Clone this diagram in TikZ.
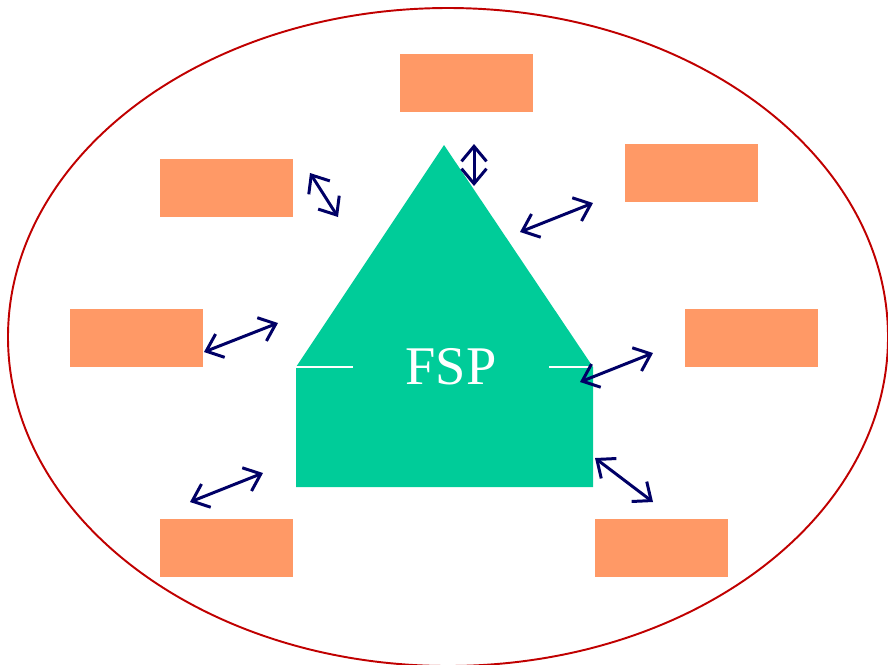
\documentclass[tikz,border=0pt]{standalone}
\usepackage{fontspec}
\setmainfont{Liberation Serif}
\usepackage{tikz}
\usetikzlibrary{arrows.meta,positioning,calc}
\definecolor{boxorange}{HTML}{FF9966}
\definecolor{housegreen}{HTML}{00CC99}
\definecolor{ringred}{HTML}{C00000}
\definecolor{arrownavy}{HTML}{000066}
\tikzset{>={Straight Barb[length=0.3cm,width=0.5cm]}}
\tikzset{partner/.style={fill=boxorange,minimum width=2.66cm,minimum height=1.16cm,inner sep=0pt}}

\begin{document}
\begin{tikzpicture}[x=0.02cm,y=-0.02cm]
\useasboundingbox (0,0) rectangle (888,664);

\draw[color=ringred,line width=1.1pt] (448,337) ellipse [x radius=440,y radius=329];

% house
\fill[housegreen] (296,367) -- (444,145) -- (593,367) -- (593,487) -- (296,487) -- cycle;
\draw[white,line width=1pt] (296,367) -- (353,367);
\draw[white,line width=1pt] (549,367) -- (590,367);
\node [align=center,text=white,font=\fontsize{31}{36}\selectfont] (fsp) at (451,367) {FSP};

% partners
\node [partner] (top) at (466.5,83) {};
\node [partner] (ul) at (226.5,188) {};
\node [partner] (ur) at (691.5,173) {};
\node [partner] (l) at (136.5,338) {};
\node [partner] (r) at (751.5,338) {};
\node [partner] (bl) at (226.5,548) {};
\node [partner] (br) at (661.5,548) {};

\coordinate (top-a) at (474,144);
\coordinate (top-b) at (474,186);
\coordinate (ul-a) at (310,173);
\coordinate (ul-b) at (338,217);
\coordinate (ur-a) at (520,232);
\coordinate (ur-b) at (593,203);
\coordinate (l-a) at (204,352);
\coordinate (l-b) at (278,323);
\coordinate (r-a) at (580,382);
\coordinate (r-b) at (653,353);
\coordinate (bl-a) at (190,502);
\coordinate (bl-b) at (263,473);
\coordinate (br-a) at (595,458);
\coordinate (br-b) at (653,502);

\begin{scope}[line width=1.7pt,color=arrownavy]
\draw[<->] (top-a) to (top-b);
\draw[<->] (ul-a) to (ul-b);
\draw[<->] (ur-a) to (ur-b);
\draw[<->] (l-a) to (l-b);
\draw[<->] (r-a) to (r-b);
\draw[<->] (bl-a) to (bl-b);
\draw[<->] (br-a) to (br-b);
\end{scope}

\end{tikzpicture}
\end{document}
